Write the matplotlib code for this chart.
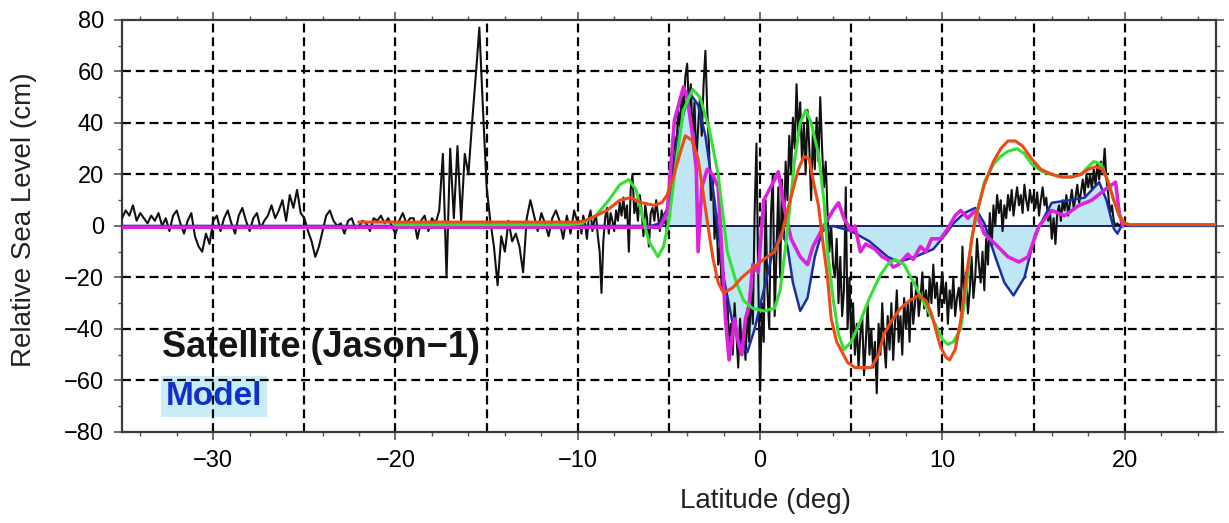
import numpy as np
import matplotlib
matplotlib.use("Agg")
import matplotlib.pyplot as plt
from matplotlib.ticker import MultipleLocator

# ===== satellite (Jason-1) along-track, west part: -35 .. -10 every 0.2 deg =====
sat_w_lat = np.round(np.linspace(-35.0, -10.0, 126), 2)
sat_w_cm = [
    3, 6, 4, 8, 2, 5, 3, 1, 4, 2,
    5, 0, 3, -2, 4, 6, 1, -3, 2, 5,
    -4, -8, -10, -3, -7, 2, 4, -2, 3, 6,
    1, -3, 4, 7, 2, -2, 3, 5, -1, 2,
    4, 8, 3, 6, 10, 2, 12, 7, 14, 5,
    3, -2, -6, -12, -8, -2, 4, 6, 2, 0,
    1, -3, 2, 3, -1, 0, 2, 1, -2, 3,
    2, 4, 1, 3, 0, -3, 2, 5, 1, 3,
    3, -5, 2, 4, -2, 3, 1, 6, 28, -20,
    30, 3, 31, 2, 28, 20, 40, 58, 77, 45,
    15, 2, -8, -23, -4, -10, 2, -6, -3, -8,
    -18, 3, 10, 4, -2, 5, 1, -4, 3, 6,
    2, -5, 4, -3, 6, 1,
]

# ===== east part: -9.9 .. 20.0 every 0.1 deg =====
sat_e_lat = np.round(np.linspace(-9.9, 20.0, 300), 2)
sat_e_cm = [
    2, -3, 4, 1, -5, 3, 6, -2, 2, 4,
    -4, -10, -26, -6, 3, 7, -3, 5, 2, -2,
    6, 2, 9, 4, 11, 3, 8, -10, 14, 20,
    5, 9, 2, 12, 6, -4, 8, 3, -8, 5,
    7, 2, 10, 4, -2, 6, 1, 3, -3, 4,
    10, 22, 35, 28, 45, 38, 52, 44, 58, 63,
    45, 55, 32, 48, 25, 38, 50, 35, 55, 68,
    45, 30, 10, 20, -5, 5, -15, -8, -25, -18,
    -35, -28, -45, -38, -50, -30, -42, -55, -36, -48,
    -40, -52, -32, -45, -25, -38, 5, 32, -20, -64,
    -30, -45, 10, -25, -40, 5, 20, -35, -10, 15,
    -20, 18, -5, 25, 10, 35, 20, 42, 30, 55,
    35, 48, 25, 40, 20, 45, 30, 10, 38, 22,
    42, 25, 50, 30, 15, 25, 5, -10, 0, -15,
    -20, -5, -30, -12, -35, -25, 15, -40, -20, -45,
    -30, -50, -38, -55, -42, -35, -58, -45, -30, -50,
    -40, -55, -45, -65, -38, -50, -30, -45, -55, -35,
    -48, -30, -52, -38, -25, -45, -35, -50, -28, -40,
    -30, -45, -22, -38, -30, -20, -35, -28, -18, -32,
    -25, -35, -20, -30, -15, -28, -22, -35, -25, -18,
    -30, -22, -38, -25, -32, -20, -35, -28, -24, -33,
    -8, -30, -18, -34, -25, -12, -28, -20, -5, -15,
    -22, -10, -25, -5, -15, 5, -8, 8, 0, 12,
    5, 10, -2, 8, 3, 12, 6, 14, 4, 10,
    15, 8, 12, 5, 16, 10, 6, 14, 9, 12,
    7, 13, 4, 10, 15, 8, 11, 2, 6, -5,
    3, -7, 5, 8, 2, 10, 6, 12, 4, 9,
    14, 7, 11, 16, 9, 13, 18, 12, 20, 15,
    20, 14, 22, 16, 24, 18, 25, 20, 30, 18,
    12, 5, 8, 2, 0, 1, 0, 1, 0, 0,
]

# ===== model (blue, filled) =====
model_lat = [-35, -6.0, -5.5, -5.0, -4.5, -3.9, -3.4, -3.0, -2.5, -2.0,
             -1.5, -1.0, -0.7, -0.3, 0.2, 0.7, 1.2, 1.5, 1.8, 2.2,
             2.6, 3.0, 3.4, 4.0, 5.0, 6.0, 7.0, 7.6, 8.5, 9.5,
             10.2, 10.6, 11.2, 11.8, 12.3, 12.9, 13.4, 13.9, 14.5, 15.1,
             16.0, 17.0, 17.8, 18.6, 19.0, 19.4, 19.6, 19.9, 20.3, 25]
model_cm = [0, 0, 1, 8, 35, 52, 47, 35, 10, -20,
            -38, -47, -49, -40, -25, -10, -2, -8, -22, -33,
            -28, -12, -2, 0, -2, -6, -12, -14, -12, -9,
            -3, 1, 5, 7, 1, -12, -22, -27, -20, -3,
            9, 10, 11, 17, 10, -1, -3, 1, 0, 0]

# ===== green run =====
green_lat = [-20, -10.5, -9.8, -9, -8.3, -7.7, -7.2, -6.8, -6.5, -6.1,
             -5.6, -5.3, -5.0, -4.6, -4.2, -3.7, -3.3, -2.8, -2.3, -1.8,
             -1.3, -0.9, -0.4, 0.2, 0.8, 1.1, 1.4, 1.7, 1.9, 2.2,
             2.5, 2.8, 3.2, 3.5, 3.7, 4.0, 4.3, 4.6, 5.0, 5.5,
             6.0, 6.6, 7.0, 7.4, 7.9, 8.5, 9.0, 9.6, 10.0, 10.3,
             10.6, 11.0, 11.3, 11.6, 12.0, 12.3, 12.8, 13.2, 13.6, 14.1,
             14.5, 14.9, 15.5, 16.0, 16.6, 17.1, 17.6, 18.0, 18.3, 18.7,
             19.1, 19.4, 19.7, 20.0, 20.3, 21, 25]
green_cm = [0.5, 0.5, 1, 4, 10, 16, 18, 14, 5, -6,
            -12, -8, 2, 25, 45, 53, 50, 38, 20, -10,
            -22, -29, -32, -33, -32, -25, -8, 12, 26, 40,
            45, 40, 28, 10, -10, -28, -42, -48, -45, -37,
            -28, -19, -15, -13, -15, -23, -30, -38, -44, -46,
            -45, -40, -25, -5, 8, 17, 24, 27, 29, 30,
            28, 24, 21, 20, 19, 19, 20, 23, 25, 24,
            17, 10, 4, 1, 0.5, 0.5, 0.5]

# ===== orange run =====
orange_lat = [-22, -10, -9.6, -9.0, -8.4, -7.7, -7.1, -6.5, -5.8, -5.4,
              -5.1, -4.8, -4.4, -4.1, -3.7, -3.4, -2.9, -2.6, -2.3, -2.0,
              -1.5, -1.0, -0.5, 0.0, 0.4, 0.8, 1.2, 1.5, 1.8, 2.1,
              2.4, 2.7, 2.9, 3.2, 3.4, 3.7, 3.9, 4.2, 4.5, 4.8,
              5.2, 5.6, 6.1, 6.5, 6.8, 7.2, 7.7, 8.2, 8.7, 9.1,
              9.4, 9.7, 9.9, 10.2, 10.4, 10.7, 11.0, 11.4, 11.8, 12.3,
              12.8, 13.2, 13.6, 14.0, 14.4, 14.9, 15.4, 16.0, 16.5, 17.1,
              17.6, 18.0, 18.4, 18.8, 19.1, 19.4, 19.7, 20.0, 20.3, 21, 25]
orange_cm = [1.5, 1.5, 2, 4, 6, 10, 11, 9, 8, 9,
             12, 18, 28, 35, 33, 26, 2, -12, -22, -26,
             -24, -20, -17, -14, -12, -10, -3, 6, 14, 22,
             27, 26, 18, 8, -4, -20, -36, -45, -49, -53,
             -55, -55, -55, -50, -42, -37, -32, -29, -27, -29,
             -34, -42, -47, -51, -52, -48, -37, -15, 3, 16,
             25, 30, 33, 33, 31, 26, 22, 20, 19, 19,
             20, 22, 23, 22, 17, 10, 4, 1, 0.5, 0.5, 0.5]

# ===== magenta run =====
mag_lat = [-35, -5.5, -5.1, -4.7, -4.2, -4.0, -3.7, -3.5, -3.4, -3.2,
           -2.9, -2.6, -2.3, -2.1, -1.9, -1.7, -1.4, -1.2, -1.0, -0.8,
           -0.6, -0.4, -0.1, 0.2, 0.5, 0.8, 1.0, 1.3, 1.7, 2.2,
           2.6, 2.9, 3.5, 4.0, 4.3, 4.6, 5.0, 5.2, 5.5, 5.8,
           6.3, 6.7, 7.0, 7.3, 7.6, 8.1, 8.4, 8.8, 9.1, 9.4,
           9.9, 10.3, 10.7, 11.0, 11.4, 11.8, 12.3, 12.9, 13.6, 14.2,
           14.7, 15.3, 16.0, 16.7, 17.5, 18.2, 18.9, 19.5, 19.7, 19.9]
mag_cm = [-0.5, -0.5, 5, 41, 54, 50, 35, 22, -10, 15,
          22, 20, 15, -10, -36, -52, -36, -45, -50, -36,
          -31, -15, -18, 10, 14, 18, 21, 8, -5, -12,
          -15, -8, 0, 6, 9, 3, -2, 0, -10, -7,
          -9, -12, -13, -16, -15, -11, -13, -8, -10, -5,
          -5, -1, 4, 6, 3, 6, -3, -7, -12, -14,
          -12, 0, 6, 4, 8, 10, 14, 17, 5, 0]

xticks = [-30, -20, -10, 0, 10, 20]
yticks = [-80, -60, -40, -20, 0, 20, 40, 60, 80]
grid_x = [-30, -25, -20, -15, -10, -5, 0, 5, 10, 15, 20]
grid_y = [-60, -40, -20, 20, 40, 60]

sat_lat = np.concatenate([sat_w_lat, sat_e_lat])
sat_cm = np.array(sat_w_cm + sat_e_cm, dtype=float)

plt.rcParams['font.family'] = ['Liberation Sans', 'DejaVu Sans']

fig = plt.figure(figsize=(12.29, 5.23), dpi=100)
ax = fig.add_axes([0.0993, 0.174, 0.890, 0.788])

# dashed grid
for gx in grid_x:
    ax.axvline(gx, color='black', lw=1.6, ls=(0, (4, 2.2)), zorder=1)
for gy in grid_y:
    ax.axhline(gy, color='black', lw=1.6, ls=(0, (4, 2.2)), zorder=1)

ax.fill_between(model_lat, model_cm, 0, color='#bfe6f3', lw=0, zorder=2)
ax.axhline(0, color='#1a2060', lw=1.4, zorder=2.5)

ax.plot(sat_lat, sat_cm, color='#111111', lw=1.5, zorder=3)
ax.plot(model_lat, model_cm, color='#1c2fa0', lw=1.8, zorder=4)
ax.plot(mag_lat, mag_cm, color='#dd22dd', lw=2.6, zorder=5)
ax.plot(green_lat, green_cm, color='#33e033', lw=2.2, zorder=6)
ax.plot(orange_lat, orange_cm, color='#ee4a18', lw=2.2, zorder=7)

ax.text(-32.8, -50.8, "Satellite (Jason\u22121)", fontsize=26, fontweight='bold',
        color='#151515', va='baseline', ha='left', zorder=0.9)
ax.text(-32.6, -69.5, "Model", fontsize=24, fontweight='bold', color='#1030c8',
        va='baseline', ha='left', zorder=0.9,
        bbox=dict(boxstyle='square,pad=0.15', fc='#c8ecf8', ec='none'))

ax.set_xlim(-35, 25)
ax.set_ylim(-80, 80)
ax.set_xticks(xticks)
ax.set_yticks(yticks)
ax.xaxis.set_minor_locator(MultipleLocator(2))
ax.yaxis.set_minor_locator(MultipleLocator(10))
ax.tick_params(which='both', direction='out', top=True, right=True, color='#555555')
ax.tick_params(which='major', length=6, width=1.2, labelsize=17, pad=7)
ax.tick_params(which='minor', length=3, width=1.0)

for s in ax.spines.values():
    s.set_linewidth(1.6)
    s.set_color('#3a3a3a')

ax.set_xlabel("Latitude (deg)", fontsize=20, color='#222222')
ax.set_ylabel("Relative Sea Level (cm)", fontsize=20, color='#222222')
ax.xaxis.set_label_coords(0.588, -0.136)
ax.yaxis.set_label_coords(-0.078, 0.515)

fig.savefig("out.png", dpi=100)
